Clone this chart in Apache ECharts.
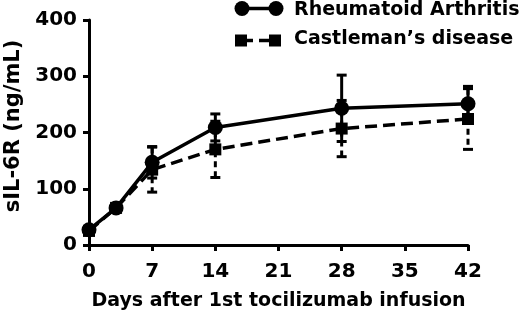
<!DOCTYPE html>
<html>
<head>
<meta charset="utf-8">
<script src="https://cdn.jsdelivr.net/npm/echarts@6/dist/echarts.min.js"></script>
<style>
  html, body { margin: 0; padding: 0; background: #fff; }
  #chart { width: 520px; height: 316px; }
</style>
</head>
<body>
<div id="chart"></div>
<script>
  // days after infusion
  var days = [0, 3, 7, 14, 28, 42];
  var xTicks = [0, 7, 14, 21, 28, 35, 42];
  // Rheumatoid Arthritis mean / sd
  var raMean = [27, 66, 147, 209, 243, 251];
  var raSd = [4, 4, 28, 24, 59, 31];
  // Castleman's disease mean / sd
  var cdMean = [25, 66, 134, 170, 207, 224];
  var cdSd = [4, 4, 40, 50, 50, 54];

  var FONT = 'DejaVu Sans';
  var chart = echarts.init(document.getElementById('chart'));

  function pts(mean) {
    return days.map(function (d, i) { return [d, mean[i]]; });
  }
  function errPts(mean, sd) {
    return days.map(function (d, i) { return [d, mean[i], sd[i]]; });
  }

  //误差线
  function errRender(dash) {
    return function (params, api) {
      var x = api.value(0), y = api.value(1), e = api.value(2);
      var top = api.coord([x, y + e]);
      var bot = api.coord([x, y - e]);
      var w = 5;
      var st = { stroke: '#000', lineWidth: 3, lineDash: dash };
      var cap = { stroke: '#000', lineWidth: 3 };
      return {
        type: 'group',
        children: [
          { type: 'line', shape: { x1: top[0], y1: top[1], x2: bot[0], y2: bot[1] }, style: st },
          { type: 'line', shape: { x1: top[0] - w, y1: top[1], x2: top[0] + w, y2: top[1] }, style: cap },
          { type: 'line', shape: { x1: bot[0] - w, y1: bot[1], x2: bot[0] + w, y2: bot[1] }, style: cap }
        ]
      };
    };
  }

  var axisText = { color: '#000', fontFamily: FONT, fontWeight: 'bold', fontSize: 20 };

  var option = {
    animation: false,
    grid: { left: 89, right: 52, top: 20, bottom: 69 },
    xAxis: {
      type: 'value',
      min: 0,
      max: 42,
      interval: 7,
      name: 'Days after 1st tocilizumab infusion',
      nameLocation: 'middle',
      nameGap: 47,
      nameTextStyle: { color: '#000', fontFamily: FONT, fontWeight: 'bold', fontSize: 19 },
      axisLine: { lineStyle: { color: '#000', width: 3 } },
      axisTick: { length: 6, lineStyle: { color: '#000', width: 3 } },
      axisLabel: Object.assign({ margin: 17, formatter: function (v) { return xTicks.indexOf(v) >= 0 ? v : ''; } }, axisText),
      splitLine: { show: false }
    },
    yAxis: {
      type: 'value',
      min: 0,
      max: 400,
      interval: 100,
      axisLine: { show: true, lineStyle: { color: '#000', width: 3 } },
      axisTick: { show: true, length: 6, lineStyle: { color: '#000', width: 3 } },
      axisLabel: Object.assign({ margin: 12 }, axisText),
      splitLine: { show: false }
    },
    graphic: [
      {
        type: 'text', x: 14, y: 126, rotation: Math.PI / 2,
        style: { text: 'sIL-6R (ng/mL)', font: 'bold 21px "DejaVu Sans"', fill: '#000', textAlign: 'center', textVerticalAlign: 'middle' }
      },
      // legend
      { type: 'line', shape: { x1: 242, y1: 8.5, x2: 276, y2: 8.5 }, style: { stroke: '#000', lineWidth: 3.5 } },
      { type: 'circle', shape: { cx: 242, cy: 8.5, r: 7.5 }, style: { fill: '#000' } },
      { type: 'circle', shape: { cx: 276, cy: 8.5, r: 7.5 }, style: { fill: '#000' } },
      { type: 'text', x: 294, y: 10, style: { text: 'Rheumatoid Arthritis', font: 'bold 19px "DejaVu Sans"', fill: '#000', textVerticalAlign: 'middle' } },
      { type: 'line', shape: { x1: 241, y1: 40.5, x2: 275, y2: 40.5 }, style: { stroke: '#000', lineWidth: 3.5, lineDash: [12, 6] } },
      { type: 'rect', shape: { x: 235, y: 34.5, width: 12, height: 12 }, style: { fill: '#000' } },
      { type: 'rect', shape: { x: 269, y: 34.5, width: 12, height: 12 }, style: { fill: '#000' } },
      { type: 'text', x: 294, y: 39.5, style: { text: 'Castleman\u2019s disease', font: 'bold 19px "DejaVu Sans"', fill: '#000', textVerticalAlign: 'middle' } }
    ],
    series: [
      {
        type: 'custom',
        data: errPts(cdMean, cdSd),
        renderItem: errRender([6, 4]),
        z: 2
      },
      {
        type: 'line',
        data: pts(cdMean),
        symbol: 'rect',
        symbolSize: 12,
        itemStyle: { color: '#000' },
        lineStyle: { color: '#000', width: 3.5, type: [12, 6] },
        z: 3
      },
      {
        type: 'custom',
        data: errPts(raMean, raSd),
        renderItem: errRender(null),
        z: 4
      },
      {
        type: 'line',
        data: pts(raMean),
        symbol: 'circle',
        symbolSize: 15,
        itemStyle: { color: '#000' },
        lineStyle: { color: '#000', width: 3.5 },
        z: 5
      }
    ]
  };

  chart.setOption(option);
</script>
</body>
</html>
